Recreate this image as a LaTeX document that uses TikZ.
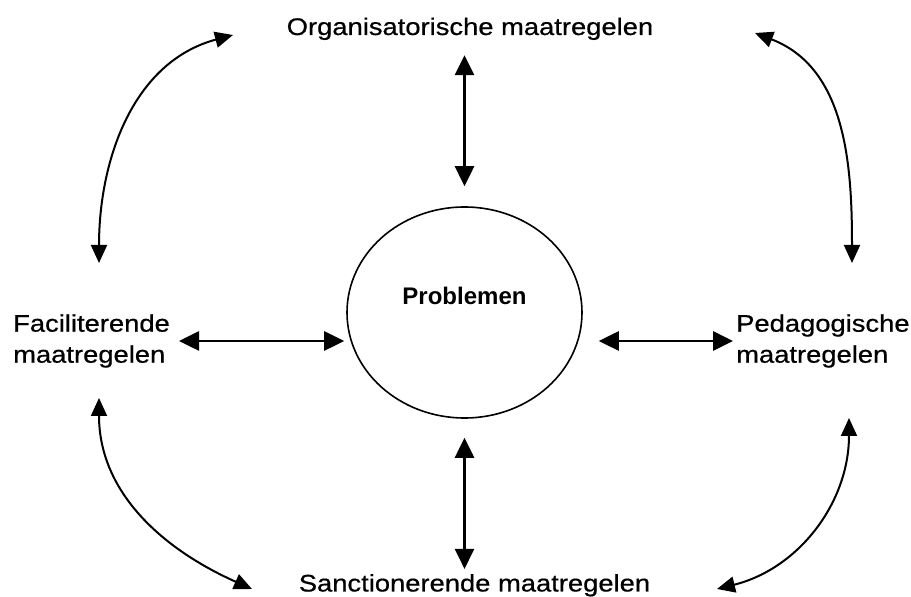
\documentclass[tikz,border=0pt]{standalone}
\usepackage{fontspec}
\setmainfont{Liberation Sans}[FakeStretch=1.14, FakeBold=0.6]
\newfontfamily\probfont{Liberation Sans}
\usetikzlibrary{shapes.geometric, arrows.meta, positioning}
\tikzset{
    x=1pt, y=1pt, % one unit is one pixel of the scan
    every node/.style={inner sep=0pt, font=\fontsize{24}{31}\selectfont}, % all labels share one size
    sidetext/.style={align=left}, % two-line labels left and right
    biarrow/.style={{Triangle[length=20pt,width=19pt]}-{Triangle[length=20pt,width=19pt]}, line width=2.8pt}, % the four straight arrows
    bentarrow/.style={{Triangle[length=18pt,width=16pt]}-{Triangle[length=18pt,width=16pt]}, line width=2pt}, % the four corner arcs
}

\begin{document}
\begin{tikzpicture}
\useasboundingbox (0,0) rectangle (911,597);
\node[ellipse, draw, line width=1.6pt, minimum width=235pt, minimum height=211pt,
      label={[font=\probfont\bfseries\fontsize{24}{31}\selectfont, yshift=17pt]center:Problemen}]
                                   (prob) at (464.5,284.5) {};
\node[anchor=base]                 (org)  at (470,562)     {Organisatorische maatregelen};
\node[anchor=base]                 (san)  at (474.5,5.5)   {Sanctionerende maatregelen};
\node[sidetext, anchor=west]       (fac)  at (13,256)      {Faciliterende\\maatregelen};
\node[sidetext, anchor=west]       (ped)  at (736,256)     {Pedagogische\\maatregelen};
% end points of the corner arcs
\coordinate (tl1) at (99,334);  \coordinate (tl2) at (233,562);
\coordinate (tr1) at (852,334); \coordinate (tr2) at (755,564);
\coordinate (bl1) at (99,199);  \coordinate (bl2) at (252,8);
\coordinate (br1) at (849,179); \coordinate (br2) at (717,8);
\draw[biarrow, shorten <=15pt, shorten >=20pt] (prob.north |- org.south) -- (prob.north);
\draw[biarrow, shorten <=19pt, shorten >=5pt]  (prob.south) -- (prob.south |- san.north);
\draw[biarrow, shorten <=9pt, shorten >=2pt]   (fac.east) -- (fac.east -| prob.west);
\draw[biarrow, shorten <=16pt, shorten >=3pt]  (ped.west -| prob.east) -- (ped.west);
\draw[bentarrow] (tl1) to[out=90, in=195]  (tl2);
\draw[bentarrow] (tr1) to[out=90, in=-21]  (tr2);
\draw[bentarrow] (bl1) to[out=-90, in=156] (bl2);
\draw[bentarrow] (br1) to[out=-90, in=14]  (br2);
\end{tikzpicture}
\end{document}
